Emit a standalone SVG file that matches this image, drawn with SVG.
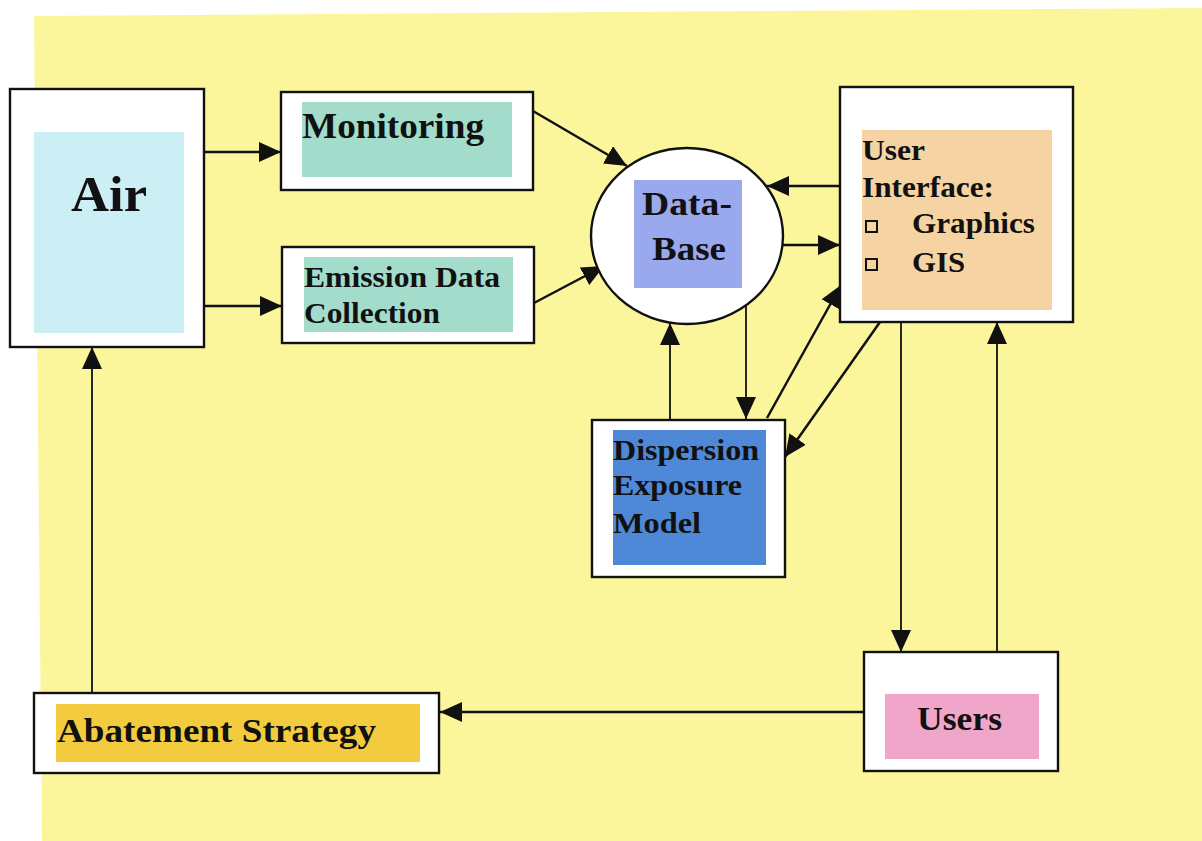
<svg xmlns="http://www.w3.org/2000/svg" width="1202" height="841" viewBox="0 0 1202 841">
<style>
.box{fill:#fff;stroke:#111;stroke-width:2.4}
.t{font-family:"Liberation Serif","Times New Roman",serif;font-weight:bold;fill:#111}
.c{fill:none;stroke:#111;stroke-width:2.5}
.thin{stroke-width:1.8}
</style>
<defs>
<marker id="ah" markerUnits="userSpaceOnUse" markerWidth="23" markerHeight="20" refX="22" refY="10" orient="auto">
<path d="M0,0 L22,10 L0,20 z" fill="#111"/>
</marker>
</defs>
<rect width="1202" height="841" fill="#fff"/>
<polygon points="34,16 1202,8 1202,841 42,841" fill="#FBF69C"/>

<g id="connectors">
<line class="c" x1="204" y1="152" x2="281" y2="152" marker-end="url(#ah)"/>
<line class="c" x1="204" y1="306" x2="282" y2="306" marker-end="url(#ah)"/>
<line class="c" x1="533" y1="111" x2="627" y2="166" marker-end="url(#ah)"/>
<line class="c" x1="534" y1="303" x2="604" y2="266" marker-end="url(#ah)"/>
<line class="c" x1="840" y1="186" x2="767" y2="186" marker-end="url(#ah)"/>
<line class="c" x1="783" y1="245" x2="840" y2="245" marker-end="url(#ah)"/>
<line class="c thin" x1="746" y1="302" x2="746" y2="419" marker-end="url(#ah)"/>
<line class="c thin" x1="670" y1="419" x2="670" y2="323" marker-end="url(#ah)"/>
<line class="c" x1="767" y1="418" x2="841" y2="285" marker-end="url(#ah)"/>
<line class="c" x1="880" y1="322" x2="785" y2="457" marker-end="url(#ah)"/>
<line class="c thin" x1="901" y1="322" x2="901" y2="652" marker-end="url(#ah)"/>
<line class="c thin" x1="997" y1="652" x2="997" y2="322" marker-end="url(#ah)"/>
<line class="c" x1="864" y1="712" x2="440" y2="712" marker-end="url(#ah)"/>
<line class="c thin" x1="92" y1="693" x2="92" y2="347" marker-end="url(#ah)"/>
</g>

<g id="air">
<rect class="box" x="10" y="89" width="194" height="258"/>
<rect x="34" y="132" width="150" height="201" fill="#CBEFF4"/>
<text class="t" x="71" y="211" font-size="50" textLength="76" lengthAdjust="spacingAndGlyphs">Air</text>
</g>

<g id="monitoring">
<rect class="box" x="281" y="92" width="252" height="98"/>
<rect x="302" y="102" width="210" height="75" fill="#A3DCCB"/>
<text class="t" x="302" y="138" font-size="36" textLength="182" lengthAdjust="spacingAndGlyphs">Monitoring</text>
</g>

<g id="emission">
<rect class="box" x="282" y="247" width="252" height="96"/>
<rect x="304" y="257" width="209" height="75" fill="#A3DCCB"/>
<text class="t" x="304" y="287" font-size="30" textLength="196" lengthAdjust="spacingAndGlyphs">Emission Data</text>
<text class="t" x="304" y="323" font-size="30" textLength="136" lengthAdjust="spacingAndGlyphs">Collection</text>
</g>

<g id="database">
<ellipse cx="687" cy="236" rx="96" ry="88" fill="#fff" stroke="#111" stroke-width="2.4"/>
<rect x="634" y="180" width="108" height="108" fill="#9AA9EE"/>
<text class="t" x="642" y="215" font-size="34" textLength="90" lengthAdjust="spacingAndGlyphs">Data-</text>
<text class="t" x="652" y="260" font-size="34" textLength="74" lengthAdjust="spacingAndGlyphs">Base</text>
</g>

<g id="user-interface">
<rect class="box" x="840" y="87" width="233" height="235"/>
<rect x="862" y="130" width="190" height="180" fill="#F6D3A3"/>
<text class="t" x="862" y="160" font-size="30" textLength="63" lengthAdjust="spacingAndGlyphs">User</text>
<text class="t" x="862" y="197" font-size="30" textLength="132" lengthAdjust="spacingAndGlyphs">Interface:</text>
<rect x="866" y="221" width="11" height="11" fill="none" stroke="#111" stroke-width="2"/>
<text class="t" x="912" y="233" font-size="30" textLength="123" lengthAdjust="spacingAndGlyphs">Graphics</text>
<rect x="866" y="259" width="11" height="11" fill="none" stroke="#111" stroke-width="2"/>
<text class="t" x="912" y="272" font-size="30" textLength="53" lengthAdjust="spacingAndGlyphs">GIS</text>
</g>

<g id="dispersion">
<rect class="box" x="592" y="420" width="193" height="157"/>
<rect x="613" y="430" width="153" height="135" fill="#4E88D6"/>
<text class="t" x="613" y="460" font-size="30" textLength="146" lengthAdjust="spacingAndGlyphs">Dispersion</text>
<text class="t" x="613" y="495" font-size="30" textLength="129" lengthAdjust="spacingAndGlyphs">Exposure</text>
<text class="t" x="613" y="533" font-size="30" textLength="88" lengthAdjust="spacingAndGlyphs">Model</text>
</g>

<g id="users">
<rect class="box" x="864" y="652" width="194" height="119"/>
<rect x="885" y="694" width="154" height="65" fill="#F0A6C9"/>
<text class="t" x="917" y="730" font-size="34" textLength="85" lengthAdjust="spacingAndGlyphs">Users</text>
</g>

<g id="abatement">
<rect class="box" x="34" y="693" width="405" height="80"/>
<rect x="56" y="704" width="364" height="58" fill="#F3CB3F"/>
<text class="t" x="57" y="742" font-size="34" textLength="319" lengthAdjust="spacingAndGlyphs">Abatement Strategy</text>
</g>
</svg>
